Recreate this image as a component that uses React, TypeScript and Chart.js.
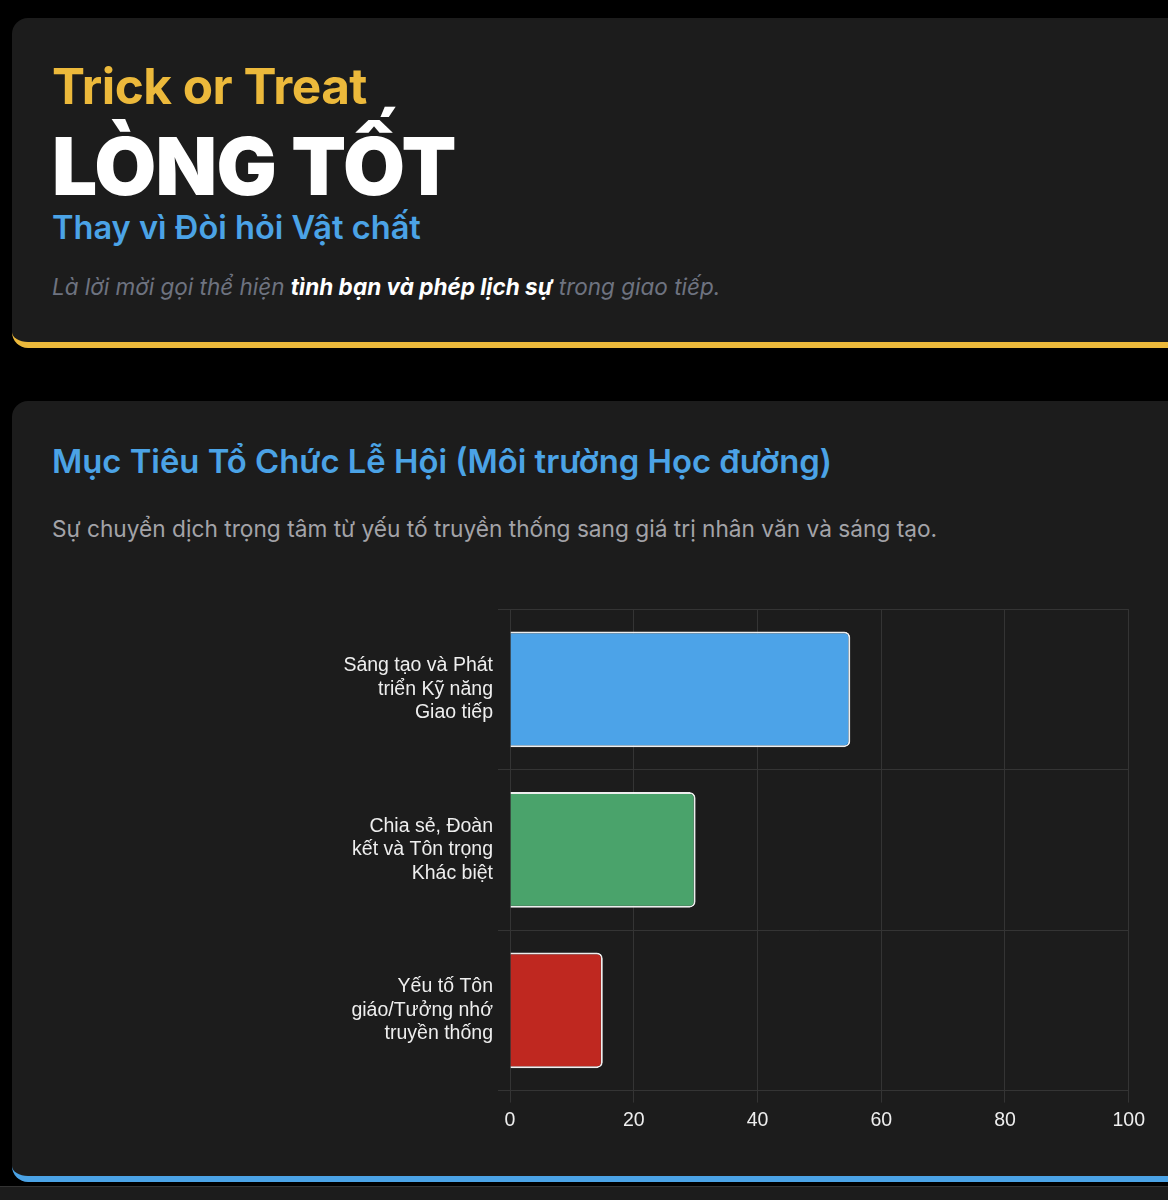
import React, { useEffect, useRef } from "react";
import { Chart, registerables } from "chart.js";

Chart.register(...registerables);

const categories: string[][] = [
  ["Sáng tạo và Phát", "triển Kỹ năng", "Giao tiếp"],
  ["Chia sẻ, Đoàn", "kết và Tôn trọng", "Khác biệt"],
  ["Yếu tố Tôn", "giáo/Tưởng nhớ", "truyền thống"],
];
const values: number[] = [55, 30, 15];
const barColors: string[] = ["#4ca3e8", "#4aa36b", "#bf2820"];
const xTicks: number[] = [0, 20, 40, 60, 80, 100];

const INTER = "Inter, 'Noto Sans', sans-serif";

function BarChart() {
  const ref = useRef<HTMLCanvasElement | null>(null);
  useEffect(() => {
    if (!ref.current) return;
    const chart = new Chart(ref.current, {
      type: "bar",
      data: {
        labels: categories,
        datasets: [
          {
            data: values,
            backgroundColor: barColors,
            borderColor: "#eeeeee",
            borderWidth: 2,
            borderRadius: 6,
          },
        ],
      },
      options: {
        indexAxis: "y",
        responsive: false,
        animation: false,
        layout: { padding: 0 },
        plugins: { legend: { display: false }, tooltip: { enabled: false } },
        scales: {
          x: {
            min: xTicks[0],
            max: xTicks[xTicks.length - 1],
            ticks: {
              stepSize: 20,
              color: "#eeeeee",
              font: { size: 19.5 },
              padding: 6,
            },
            grid: { color: "#343434", tickLength: 12 },
            border: { color: "#343434" },
          },
          y: {
            ticks: {
              color: "#eeeeee",
              font: { size: 19.5, lineHeight: 1.2 },
              padding: 5,
            },
            grid: { color: "#343434", tickLength: 12 },
            border: { color: "#343434" },
            afterFit: (scale: any) => {
              scale.width = 180;
            },
          },
        },
      },
    });
    return () => chart.destroy();
  }, []);
  return (
    <canvas
      ref={ref}
      width={821}
      height={569}
      style={{ position: "absolute", left: 330, top: 569, width: 821, height: 569 }}
    />
  );
}

const abs = (left: number, top: number, extra: React.CSSProperties): React.CSSProperties => ({
  position: "absolute",
  left,
  top,
  margin: 0,
  whiteSpace: "nowrap",
  fontFamily: INTER,
  lineHeight: 1.21,
  ...extra,
});

export default function App() {
  return (
    <div
      style={{
        position: "absolute",
        left: 0,
        top: 0,
        width: 1168,
        height: 1200,
        overflow: "hidden",
        background: "#000000",
      }}
    >
      <div
        style={{
          position: "absolute",
          left: 12,
          top: 18,
          width: 1220,
          height: 324,
          background: "#1c1c1c",
          borderRadius: 16,
          borderBottom: "6px solid #ecb93b",
        }}
      />
      <div style={abs(52, 56.5, { fontSize: 49.5, fontWeight: 700, color: "#ecb93b", letterSpacing: "-0.5px" })}>
        Trick or Treat
      </div>
      <div style={abs(52, 117.5, { fontSize: 80, fontWeight: 900, color: "#ffffff", letterSpacing: "-0.7px" })}>
        LÒNG TỐT
      </div>
      <div style={abs(52, 207.5, { fontSize: 32.6, fontWeight: 600, color: "#4ba3e6" })}>
        Thay vì Đòi hỏi Vật chất
      </div>
      <div style={abs(52, 273, { fontSize: 22.5, fontStyle: "italic", color: "#6e7380" })}>
        Là lời mời gọi thể hiện{" "}
        <span style={{ color: "#ffffff", fontWeight: 700 }}>tình bạn và phép lịch sự</span> trong giao tiếp.
      </div>

      <div
        style={{
          position: "absolute",
          left: 12,
          top: 401,
          width: 1220,
          height: 775,
          background: "#1c1c1c",
          borderRadius: 16,
          borderBottom: "6px solid #4ba3e6",
        }}
      />
      <div style={abs(52, 442, { fontSize: 32.8, fontWeight: 600, color: "#4ba3e6" })}>
        Mục Tiêu Tổ Chức Lễ Hội (Môi trường Học đường)
      </div>
      <div style={abs(52, 514.5, { fontSize: 22.7, fontWeight: 400, color: "#a3a3a8" })}>
        Sự chuyển dịch trọng tâm từ yếu tố truyền thống sang giá trị nhân văn và sáng tạo.
      </div>
      <BarChart />

      <div
        style={{
          position: "absolute",
          left: 0,
          top: 1186,
          width: 1168,
          height: 20,
          background: "#1c1c1c",
          borderTop: "1px solid #333333",
        }}
      />
    </div>
  );
}
